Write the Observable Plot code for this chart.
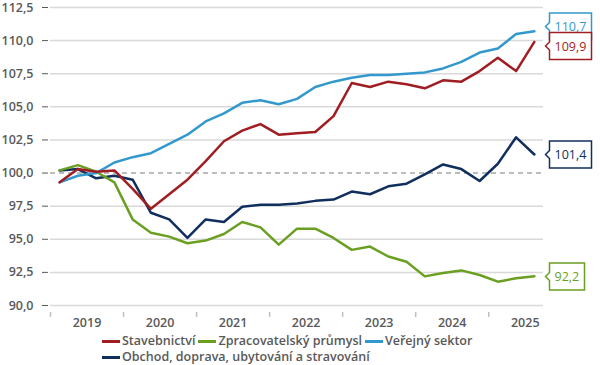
<!DOCTYPE html>
<html><head><meta charset="utf-8">
<script src="https://cdn.jsdelivr.net/npm/d3@7"></script>
<script src="https://cdn.jsdelivr.net/npm/@observablehq/plot@0.6"></script>
<style>
body{margin:0;background:#fff;font-family:"Open Sans",sans-serif;}
#wrap{position:relative;width:600px;height:365px;overflow:hidden}
#legend{position:absolute;left:102px;top:333px;width:420px;display:flex;flex-wrap:wrap;column-gap:3px;row-gap:0;font-size:12.5px;font-weight:600;color:#595959;line-height:16px}
.item{display:flex;align-items:center;gap:2px;white-space:nowrap;height:16px}
.sw{width:18px;height:3px;display:inline-block}
</style></head><body><div id="wrap"><div id="legend"></div></div>
<script>
const quarters = ["2019Q1","2019Q2","2019Q3","2019Q4","2020Q1","2020Q2","2020Q3","2020Q4",
  "2021Q1","2021Q2","2021Q3","2021Q4","2022Q1","2022Q2","2022Q3","2022Q4",
  "2023Q1","2023Q2","2023Q3","2023Q4","2024Q1","2024Q2","2024Q3","2024Q4",
  "2025Q1","2025Q2","2025Q3"];
const seriesNames = ["Stavebnictví","Zpracovatelský průmysl","Veřejný sektor","Obchod, doprava, ubytování a stravování"];
const stavebnictvi = [99.3,100.3,100.1,100.2,98.8,97.3,98.4,99.5,100.9,102.4,103.2,103.7,102.9,103.0,103.1,104.3,106.8,106.5,106.9,106.7,106.4,107.0,106.9,107.7,108.7,107.7,109.9];
const zpracovatelsky = [100.2,100.6,100.1,99.3,96.5,95.5,95.2,94.7,94.9,95.4,96.3,95.9,94.6,95.8,95.8,95.1,94.2,94.45,93.7,93.3,92.2,92.45,92.65,92.3,91.8,92.05,92.2];
const verejny = [99.3,99.8,100.0,100.8,101.2,101.5,102.2,102.9,103.9,104.5,105.3,105.5,105.2,105.6,106.5,106.9,107.2,107.4,107.4,107.5,107.6,107.9,108.4,109.1,109.4,110.5,110.7];
const obchod = [100.2,100.3,99.6,99.8,99.5,97.0,96.5,95.1,96.5,96.3,97.45,97.6,97.6,97.7,97.9,98.0,98.6,98.4,99.0,99.2,99.9,100.65,100.3,99.4,100.7,102.7,101.4];
const yearLabels = [2019,2020,2021,2022,2023,2024,2025];
const yTicks = [90,92.5,95,97.5,100,102.5,105,107.5,110,112.5];
const colors = ["#a01d22","#6a9f22","#3399cc","#102f5e"];

const valuesBySeries = [stavebnictvi, zpracovatelsky, verejny, obchod];
const qx = q => +q.slice(0,4) + (+q.slice(5) - 0.5) / 4;
const rows = [];
valuesBySeries.forEach((vals, s) => vals.forEach((v, i) => rows.push({series: seriesNames[s], x: qx(quarters[i]), v})));
const fmt = d => d3.format(".1f")(d).replace(".", ",");
const last = s => rows.filter(r => r.series === seriesNames[s]).at(-1);

const font = {fontFamily: "Open Sans, sans-serif", fontSize: 12.5, fontWeight: 600};
const tipOpts = (s, dy) => ({x: "x", y: "v", title: d => fmt(d.v), anchor: "left", dx: 11, dy,
  fill: "white", stroke: colors[s], strokeWidth: 1.5, textPadding: 5, pointerSize: 8,
  fontFamily: "Open Sans, sans-serif", fontSize: 12.5});

const plot = Plot.plot({
  width: 600, height: 340,
  marginLeft: 50, marginRight: 57, marginTop: 7, marginBottom: 35,
  style: {color: "#595959", background: "white", overflow: "visible"},
  x: {domain: [2019, 2025.75], label: null},
  y: {domain: [90, 112.5], label: null},
  marks: [
    Plot.gridY(yTicks.filter(t => t !== 100), {stroke: "#d9d9d9", strokeOpacity: 1, strokeWidth: 1.5}),
    Plot.ruleY([100], {stroke: "#a6a6a6", strokeWidth: 1.5, strokeDasharray: "5,4"}),
    Plot.axisY({ticks: yTicks, tickSize: 6, tickPadding: 9, tickFormat: fmt, label: null, ...font, dx: -2}),
    Plot.ruleX(yearLabels, {x: d => d, y1: 90, y2: 90, insetTop: 7, insetBottom: -12, stroke: "#bfbfbf", strokeWidth: 1.5}),
    Plot.axisX({ticks: yearLabels.map(y => y + 0.5), tickSize: 0, tickPadding: 13, tickFormat: d => String(Math.floor(d)), label: null, ...font}),
    Plot.line(rows.filter(r => r.series === seriesNames[3]), {x: "x", y: "v", stroke: colors[3], strokeWidth: 2.5}),
    Plot.line(rows.filter(r => r.series === seriesNames[1]), {x: "x", y: "v", stroke: colors[1], strokeWidth: 2.5}),
    Plot.line(rows.filter(r => r.series === seriesNames[2]), {x: "x", y: "v", stroke: colors[2], strokeWidth: 2.5}),
    Plot.line(rows.filter(r => r.series === seriesNames[0]), {x: "x", y: "v", stroke: colors[0], strokeWidth: 2.5}),
    Plot.tip([last(2)], tipOpts(2, -5)),
    Plot.tip([last(0)], tipOpts(0, 4.5)),
    Plot.tip([last(3)], tipOpts(3, 0)),
    Plot.tip([last(1)], tipOpts(1, 0))
  ]
});
const wrap = document.getElementById("wrap");
wrap.insertBefore(plot, wrap.firstChild);
const tipColors = [colors[2], colors[0], colors[3], colors[1]];
d3.select(plot).selectAll('g[aria-label="tip"]').each(function(_, i) {
  const g = d3.select(this);
  g.selectAll("path").attr("filter", null).style("filter", "none");
  g.selectAll("text, tspan").attr("fill", tipColors[i]).style("fill", tipColors[i]);
});

const legend = document.getElementById("legend");
seriesNames.forEach((n, i) => {
  const it = document.createElement("div"); it.className = "item";
  const sw = document.createElement("span"); sw.className = "sw"; sw.style.background = colors[i];
  const t = document.createElement("span"); t.textContent = n;
  it.appendChild(sw); it.appendChild(t); legend.appendChild(it);
});
</script></body></html>
